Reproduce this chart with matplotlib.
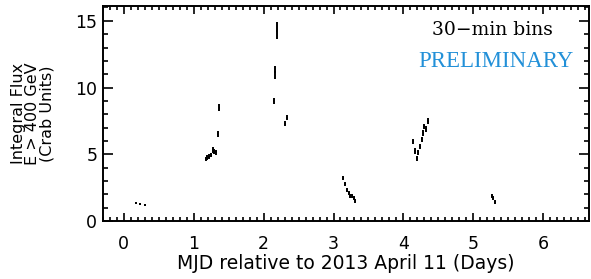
import numpy as np
import matplotlib
matplotlib.use('Agg')
import matplotlib.pyplot as plt
from matplotlib.ticker import MultipleLocator

# 30-min binned light curve, days after MJD of 2013 April 11
days = [0.171, 0.233, 0.300,
        1.171, 1.195, 1.219, 1.253, 1.271, 1.295, 1.319, 1.343, 1.367,
        2.143, 2.162, 2.186, 2.305, 2.333,
        3.143, 3.162, 3.190, 3.219, 3.243, 3.271, 3.290, 3.314,
        4.143, 4.167, 4.190, 4.214, 4.238, 4.262, 4.286, 4.295, 4.324, 4.352,
        5.262, 5.286, 5.310]
flux = [1.33, 1.28, 1.20,
        4.65, 4.75, 4.82, 4.95, 5.33, 5.20, 5.15, 6.50, 8.50,
        9.00, 11.15, 14.25, 7.28, 7.75,
        3.22, 2.78, 2.30, 2.12, 1.85, 1.90, 1.70, 1.52,
        5.98, 5.25, 4.70, 5.15, 5.57, 6.13, 6.58, 7.08, 6.88, 7.52,
        1.90, 1.75, 1.40]
flux_err = [0.08, 0.08, 0.08,
            0.18, 0.18, 0.18, 0.18, 0.2, 0.2, 0.2, 0.22, 0.25,
            0.25, 0.5, 0.63, 0.2, 0.2,
            0.15, 0.15, 0.15, 0.15, 0.15, 0.15, 0.15, 0.15,
            0.2, 0.2, 0.2, 0.2, 0.2, 0.2, 0.2, 0.2, 0.2, 0.22,
            0.15, 0.15, 0.15]
bin_halfwidth = 15.0 / 60 / 24

fig = plt.figure(figsize=(5.91, 2.79), dpi=100)
ax = fig.add_axes([0.174, 0.208, 0.822, 0.77])

ax.errorbar(days, flux, yerr=flux_err, xerr=bin_halfwidth, fmt='none',
            ecolor='black', elinewidth=1.4, capsize=0)

ax.set_xlim(-0.3, 6.65)
ax.set_ylim(0, 16.1)
ax.xaxis.set_major_locator(MultipleLocator(1))
ax.xaxis.set_minor_locator(MultipleLocator(0.1))
ax.yaxis.set_major_locator(MultipleLocator(5))
ax.yaxis.set_minor_locator(MultipleLocator(1))
ax.tick_params(which='both', direction='in', top=True, right=True,
               width=1.2, labelsize=12.5)
ax.tick_params(axis='y', which='major', length=7.5, pad=4)
ax.tick_params(axis='y', which='minor', length=3.8)
ax.tick_params(axis='x', which='major', length=5.5, pad=10)
ax.tick_params(axis='x', which='minor', length=2.8)
for sp in ax.spines.values():
    sp.set_linewidth(1.4)

ax.set_xlabel('MJD relative to 2013 April 11 (Days)', fontsize=13.5, labelpad=1)
ax.set_ylabel('Integral Flux\nE > 400 GeV\n(Crab Units)', fontsize=11.5,
              linespacing=0.95, labelpad=15)

ax.text(0.803, 0.888, '30\u2212min bins', transform=ax.transAxes,
        family='DejaVu Serif', fontsize=13.5, ha='center', va='center')
ax.text(0.809, 0.74, 'PRELIMINARY', transform=ax.transAxes,
        family='Liberation Serif', fontsize=16.5, color='#2290d8',
        ha='center', va='center')

fig.savefig('out.png', dpi=100)
